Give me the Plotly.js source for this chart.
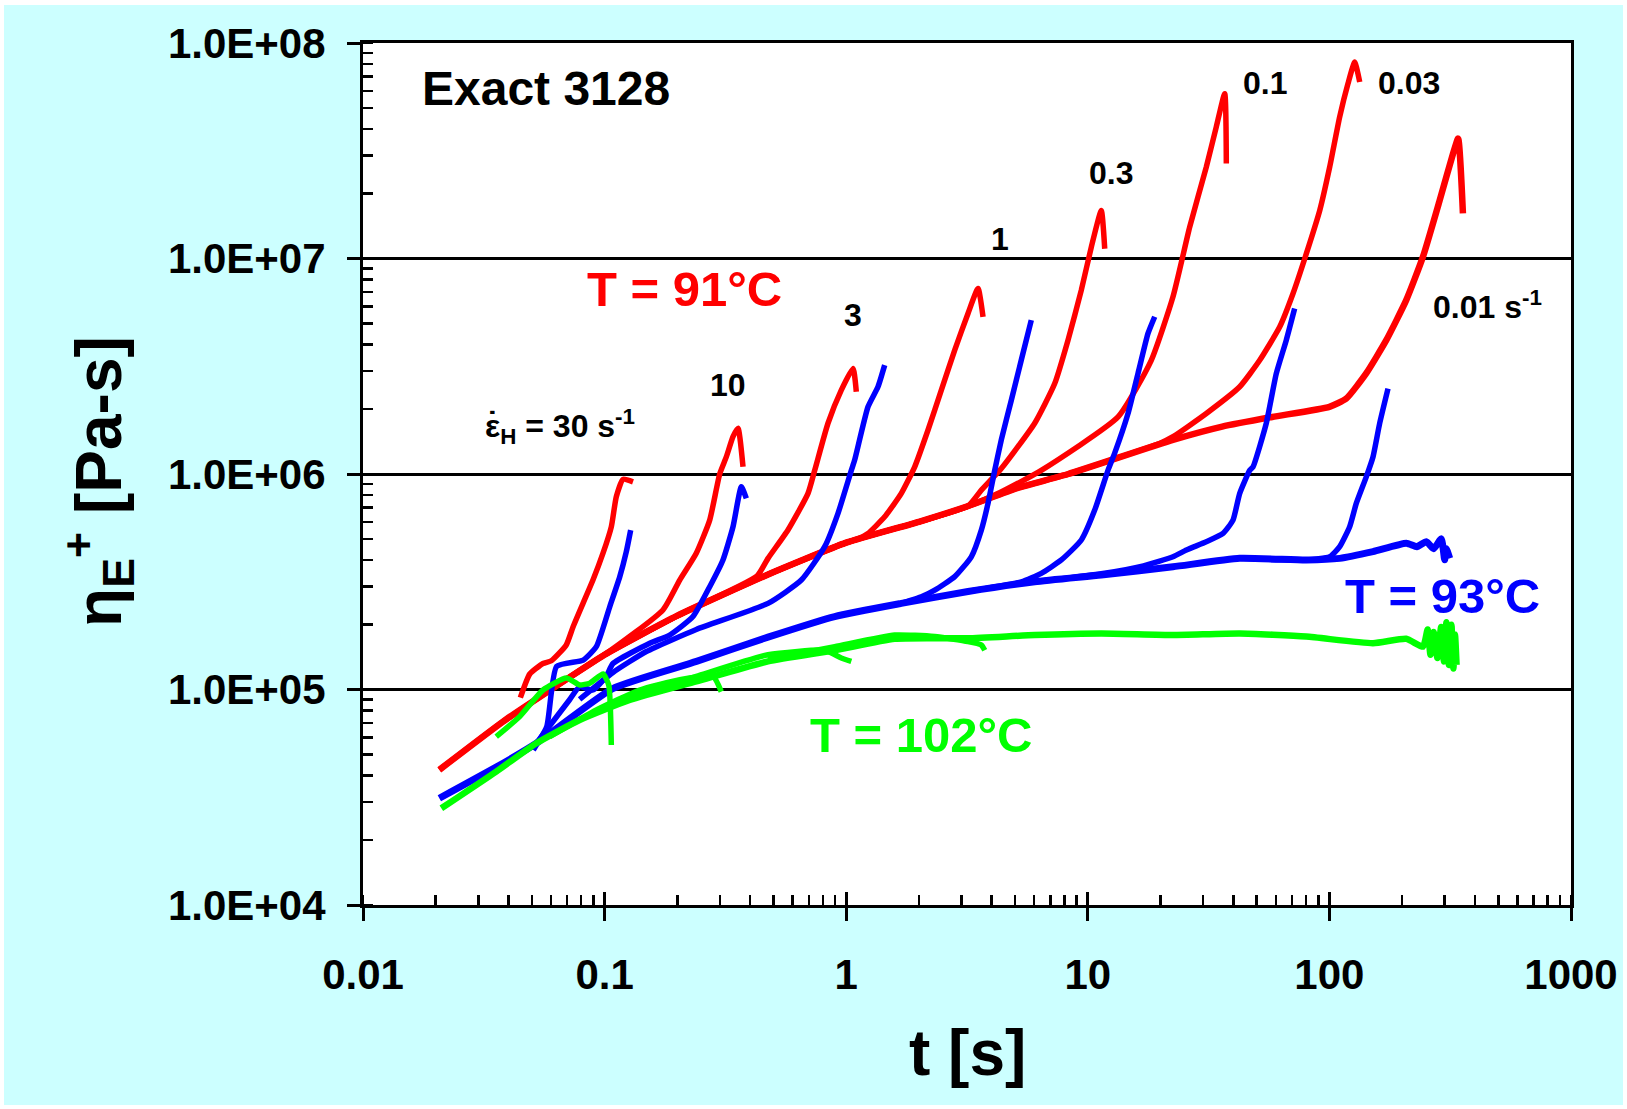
<!DOCTYPE html>
<html>
<head>
<meta charset="utf-8">
<script src="https://cdn.plot.ly/plotly-3.0.1.min.js"></script>
<style>
  html, body { margin: 0; padding: 0; background: #ffffff; }
  #chart { width: 1627px; height: 1109px; }
  #frame { position: absolute; left: 0; top: 0; width: 1627px; height: 1109px;
           box-sizing: border-box; border: solid #ffffff; border-width: 5px 4px 4px 4px;
           pointer-events: none; }
</style>
</head>
<body>
<div id="chart"></div>
<div id="frame"></div>
<script>
// Transient uniaxial extensional viscosity, Exact 3128, t [s] vs eta_E+ [Pa-s]

// ---- T = 91 °C (red) ----
const t91_30 = [0.0448, 0.049, 0.0556, 0.0602, 0.0694, 0.074, 0.0814, 0.0895, 0.0985, 0.1066, 0.1118, 0.1192, 0.1311];
const eta91_30 = [9.16e4, 1.18e5, 1.32e5, 1.36e5, 1.61e5, 1.95e5, 2.51e5, 3.22e5, 4.29e5, 5.69e5, 7.84e5, 9.44e5, 9.2e5];

const t91_10 = [0.0207, 0.038, 0.06, 0.1, 0.1744, 0.2046, 0.2396, 0.2723, 0.2995, 0.319, 0.34, 0.3566, 0.374];
const eta91_10 = [4.24e4, 7.1e4, 1.0e5, 1.45e5, 2.34e5, 3.22e5, 4.29e5, 6.11e5, 1.0e6, 1.2e6, 1.49e6, 1.63e6, 1.08e6];

const t91_3 = [0.038, 0.06, 0.1, 0.2, 0.4274, 0.4746, 0.5741, 0.695, 0.7408, 0.8407, 0.9543, 1.067, 1.101];
const eta91_3 = [7.1e4, 1.0e5, 1.45e5, 2.2e5, 3.36e5, 4.06e5, 5.5e5, 8.13e5, 1.04e6, 1.72e6, 2.45e6, 3.09e6, 2.41e6];

const t91_1 = [0.06, 0.1, 0.2, 0.47, 1.0, 1.119, 1.231, 1.443, 1.691, 1.921, 2.181, 2.476, 2.813, 3.193, 3.512, 3.684];
const eta91_1 = [1.0e5, 1.45e5, 2.2e5, 3.4e5, 4.8e5, 5.0e5, 5.3e5, 6.33e5, 8.13e5, 1.08e6, 1.6e6, 2.45e6, 3.76e6, 5.56e6, 7.26e6, 5.36e6];

const t91_03 = [0.1, 0.2, 0.47, 1.0, 2.0, 3.193, 3.625, 4.385, 6.028, 7.295, 8.28, 9.4, 10.34, 11.37, 11.75];
const eta91_03 = [1.45e5, 2.2e5, 3.4e5, 4.8e5, 6.0e5, 7.1e5, 8.42e5, 1.06e6, 1.72e6, 2.63e6, 4.18e6, 7.13e6, 1.13e7, 1.67e7, 1.11e7];

const t91_01 = [0.2, 0.47, 1.0, 2.0, 3.2, 4.331, 6.419, 13.34, 18.31, 22.52, 26.41, 30.94, 34.03, 36.87, 37.44];
const eta91_01 = [2.2e5, 3.4e5, 4.8e5, 6.0e5, 7.1e5, 8.2e5, 1.04e6, 1.84e6, 3.37e6, 6.64e6, 1.40e7, 2.66e7, 4.08e7, 5.82e7, 2.76e7];

const t91_003 = [0.47, 1.0, 2.0, 3.2, 5.1, 8.3, 19.9, 22.52, 30.94, 42.54, 51.45, 62.3, 70.7, 80.2, 91.2, 100.3, 110.3, 119.4, 127.3, 133.5];
const eta91_003 = [3.4e5, 4.8e5, 6.0e5, 7.1e5, 8.6e5, 1.0e6, 1.39e6, 1.49e6, 1.91e6, 2.54e6, 3.37e6, 4.82e6, 6.88e6, 1.05e7, 1.67e7, 2.66e7, 4.54e7, 6.48e7, 8.16e7, 6.59e7];

const t91_001 = [0.0207, 0.038, 0.06, 0.1, 0.2, 0.47, 1.0, 2.0, 3.2, 5.1, 8.3, 22.5, 36, 58, 100, 117.5, 142, 172, 208, 244, 286, 325, 341, 357];
const eta91_001 = [4.24e4, 7.1e4, 1.0e5, 1.45e5, 2.2e5, 3.4e5, 4.8e5, 6.0e5, 7.1e5, 8.6e5, 1.0e6, 1.44e6, 1.66e6, 1.84e6, 2.05e6, 2.24e6, 2.93e6, 4.18e6, 6.41e6, 1.02e7, 1.86e7, 3.07e7, 3.6e7, 1.62e7];

// ---- T = 93 °C (blue) ----
const t93_30 = [0.0507, 0.0576, 0.0633, 0.0816, 0.0924, 0.105, 0.1155, 0.123, 0.1282];
const eta93_30 = [5.24e4, 6.72e4, 1.28e5, 1.37e5, 1.58e5, 2.42e5, 3.33e5, 4.36e5, 5.49e5];

const t93_10 = [0.0522, 0.0715, 0.0788, 0.0895, 0.1015, 0.1083, 0.1537, 0.186, 0.2322, 0.2723, 0.309, 0.34, 0.368, 0.386];
const eta93_10 = [5.63e4, 8.94e4, 1.03e5, 9.95e4, 1.15e5, 1.32e5, 1.64e5, 1.79e5, 2.18e5, 3.0e5, 3.99e5, 5.69e5, 8.72e5, 7.71e5];

const t93_3 = [0.0788, 0.1083, 0.1488, 0.2396, 0.4746, 0.652, 0.8147, 0.9249, 1.05, 1.084, 1.231, 1.354, 1.443];
const eta93_3 = [9.0e4, 1.2e5, 1.5e5, 1.9e5, 2.51e5, 3.22e5, 4.6e5, 6.57e5, 1.04e6, 1.16e6, 2.05e6, 2.54e6, 3.2e6];

const t93_1 = [1.691, 2.046, 2.325, 2.813, 3.295, 3.625, 3.863, 4.119, 4.385, 4.824, 5.306, 5.836];
const eta93_1 = [2.51e5, 2.69e5, 2.89e5, 3.34e5, 4.13e5, 5.49e5, 7.3e5, 1.04e6, 1.44e6, 2.2e6, 3.38e6, 5.18e6];

const t93_03 = [3.193, 5.306, 6.419, 7.77, 9.4, 10.68, 12.12, 12.92, 14.67, 16.14, 17.75, 18.92];
const eta93_03 = [2.85e5, 3.16e5, 3.46e5, 3.99e5, 4.94e5, 6.8e5, 1.04e6, 1.25e6, 1.91e6, 2.93e6, 4.49e6, 5.37e6];

const t93_01 = [6.028, 11.37, 17, 22.52, 25.6, 30.94, 36.28, 39.9, 42.54, 46.8, 48.3, 54.8, 60.3, 66.3, 71.8];
const eta93_01 = [3.16e5, 3.45e5, 3.75e5, 4.13e5, 4.44e5, 4.85e5, 5.3e5, 6.11e5, 8.13e5, 1.04e6, 1.08e6, 1.72e6, 2.93e6, 4.18e6, 5.86e6];

const t93_003 = [42.54, 80.2, 100.3, 110.3, 121.3, 129.2, 142.1, 151.5, 161.5, 174.8];
const eta93_003 = [4.06e5, 3.99e5, 4.13e5, 4.6e5, 5.69e5, 7.3e5, 9.7e5, 1.2e6, 1.72e6, 2.49e6];

const t93_001 = [0.0207, 0.038, 0.0522, 0.108, 0.24, 0.4746, 0.8962, 1.691, 3.193, 6.028, 11.37, 22.52, 42.54, 80.2, 110.3, 151.5, 208.2, 230, 251.8, 270, 290.5, 300, 304.6, 314.7];
const eta93_001 = [3.13e4, 4.55e4, 5.63e4, 1.01e5, 1.35e5, 1.75e5, 2.18e5, 2.51e5, 2.85e5, 3.16e5, 3.4e5, 3.71e5, 4.06e5, 3.99e5, 4.06e5, 4.36e5, 4.77e5, 4.6e5, 4.85e5, 4.5e5, 5.0e5, 4.0e5, 4.5e5, 4.06e5];

// ---- T = 102 °C (green) ----
const t102_30 = [0.0356, 0.0445, 0.0556, 0.0694, 0.0788, 0.0868, 0.0985, 0.104, 0.1066];
const eta102_30 = [6.04e4, 7.48e4, 9.95e4, 1.13e5, 1.05e5, 1.07e5, 1.18e5, 1.05e5, 5.53e4];

const t102_10 = [0.0593, 0.0924, 0.1397, 0.2046, 0.2811, 0.304];
const eta102_10 = [6.04e4, 8.03e4, 9.95e4, 1.11e5, 1.15e5, 9.78e4];

const t102_3 = [0.127, 0.2396, 0.4746, 0.8147, 0.9543, 1.05];
const eta102_3 = [9.2e4, 1.15e5, 1.45e5, 1.52e5, 1.40e5, 1.35e5];

const t102_1 = [0.4746, 0.8962, 1.587, 2.325, 3.193, 3.625, 3.745];
const eta102_1 = [1.38e5, 1.58e5, 1.79e5, 1.76e5, 1.67e5, 1.61e5, 1.52e5];

const t102_001 = [0.0211, 0.0356, 0.0522, 0.0788, 0.127, 0.2396, 0.4746, 0.8962, 1.587, 3.193, 6.028, 11.37, 22.52, 42.54, 80.2, 151.5, 208, 244, 255, 262, 270, 280, 290, 298, 305, 312, 320, 326, 331, 336];
const eta102_001 = [2.81e4, 4.16e4, 5.63e4, 7.22e4, 8.94e4, 1.09e5, 1.35e5, 1.52e5, 1.72e5, 1.73e5, 1.79e5, 1.82e5, 1.79e5, 1.82e5, 1.76e5, 1.64e5, 1.72e5, 1.58e5, 1.9e5, 1.45e5, 1.85e5, 1.4e5, 1.95e5, 1.35e5, 2.05e5, 1.3e5, 2.0e5, 1.25e5, 1.8e5, 1.3e5];

// ---- axis ticks ----
const xTickVals = [0.01, 0.1, 1, 10, 100, 1000];
const xTickText = ['0.01', '0.1', '1', '10', '100', '1000'];
const yTickVals = [1e4, 1e5, 1e6, 1e7, 1e8];
const yTickText = ['1.0E+04', '1.0E+05', '1.0E+06', '1.0E+07', '1.0E+08'];

const RED = '#ff0000', BLUE = '#0000ff', GREEN = '#00ff00';
const FONT = 'Liberation Sans, Arial, sans-serif';

function curve(x, y, color, name, width) {
  return { x: x, y: y, type: 'scatter', mode: 'lines', name: name,
           line: { color: color, width: width || 5.5, shape: 'spline', smoothing: 0.5 },
           showlegend: false, hoverinfo: 'skip' };
}

const traces = [
  curve(t91_001, eta91_001, RED, '91 °C, 0.01', 6.5),
  curve(t91_003, eta91_003, RED, '91 °C, 0.03'),
  curve(t91_01, eta91_01, RED, '91 °C, 0.1'),
  curve(t91_03, eta91_03, RED, '91 °C, 0.3'),
  curve(t91_1, eta91_1, RED, '91 °C, 1'),
  curve(t91_3, eta91_3, RED, '91 °C, 3'),
  curve(t91_10, eta91_10, RED, '91 °C, 10'),
  curve(t91_30, eta91_30, RED, '91 °C, 30'),
  curve(t93_001, eta93_001, BLUE, '93 °C, 0.01', 7),
  curve(t93_003, eta93_003, BLUE, '93 °C, 0.03'),
  curve(t93_01, eta93_01, BLUE, '93 °C, 0.1'),
  curve(t93_03, eta93_03, BLUE, '93 °C, 0.3'),
  curve(t93_1, eta93_1, BLUE, '93 °C, 1'),
  curve(t93_3, eta93_3, BLUE, '93 °C, 3'),
  curve(t93_10, eta93_10, BLUE, '93 °C, 10'),
  curve(t93_30, eta93_30, BLUE, '93 °C, 30'),
  curve(t102_001, eta102_001, GREEN, '102 °C, 0.01', 6.5),
  curve(t102_1, eta102_1, GREEN, '102 °C, 1'),
  curve(t102_3, eta102_3, GREEN, '102 °C, 3'),
  curve(t102_10, eta102_10, GREEN, '102 °C, 10'),
  curve(t102_30, eta102_30, GREEN, '102 °C, 30'),
  // carrier for the upper half of the crossing major ticks on the time axis
  { x: [], y: [], type: 'scatter', mode: 'lines', xaxis: 'x2', yaxis: 'y', showlegend: false }
];

function label(text, x, y, size, color, anchor) {
  return { text: text, xref: 'paper', yref: 'paper', x: x, y: y,
           xanchor: anchor || 'center', yanchor: 'middle', showarrow: false,
           font: { family: FONT, size: size, color: color, weight: 'bold' } };
}

const annotations = [
  label('Exact 3128', 0.0469, 0.947, 48, '#000000', 'left'),
  label('T = 91°C', 0.1835, 0.7146, 49, RED, 'left'),
  label('T = 93°C', 0.8113, 0.359, 49, BLUE, 'left'),
  label('T = 102°C', 0.3684, 0.1972, 49, GREEN, 'left'),
  label('ε<sub>H</sub> = 30 s<sup>-1</sup>', 0.0993, 0.555, 32, '#000000', 'left'),
  label('˙', 0.1072, 0.5595, 32, '#000000'),
  label('10', 0.3022, 0.6032, 32, '#000000'),
  label('3', 0.4056, 0.6845, 32, '#000000'),
  label('1', 0.5276, 0.7726, 32, '#000000'),
  label('0.3', 0.6195, 0.8488, 32, '#000000'),
  label('0.1', 0.7464, 0.954, 32, '#000000'),
  label('0.03', 0.8659, 0.954, 32, '#000000'),
  label('0.01 s<sup>-1</sup>', 0.8841, 0.6955, 32, '#000000', 'left'),
  // axis titles
  label('t [s]', 0.5004, -0.1717, 64, '#000000'),
  Object.assign(label('η<sub>E</sub><sup>+</sup> [Pa-s]', -0.2194, 0.4919, 64, '#000000'), { textangle: -90 })
];

const axisCommon = {
  type: 'log', showline: true, linecolor: '#000000', linewidth: 3, mirror: true,
  zeroline: false, ticks: 'outside', ticklen: 13, tickwidth: 3, tickcolor: '#000000',
  tickfont: { family: FONT, size: 42, color: '#000000', weight: 'bold' },
  minor: { ticks: 'inside', ticklen: 10, tickwidth: 2.5, tickcolor: '#000000', dtick: 'D1', showgrid: false }
};

const layout = {
  width: 1627, height: 1109,
  margin: { l: 363, r: 56, t: 43, b: 204, pad: 0 },
  paper_bgcolor: '#ccffff',
  plot_bgcolor: '#ffffff',
  showlegend: false,
  xaxis: Object.assign({}, axisCommon, {
    range: [-2, 3], tickmode: 'array', tickvals: xTickVals, ticktext: xTickText,
    showgrid: false, ticklabelstandoff: 18
  }),
  xaxis2: {
    type: 'log', overlaying: 'x', matches: 'x', anchor: 'y', side: 'bottom',
    range: [-2, 3], tickmode: 'array', tickvals: xTickVals, ticks: 'inside', ticklen: 13,
    tickwidth: 3, tickcolor: '#000000', showticklabels: false, showgrid: false,
    showline: false, zeroline: false
  },
  yaxis: Object.assign({}, axisCommon, {
    range: [4, 8], tickmode: 'array', tickvals: yTickVals, ticktext: yTickText,
    showgrid: true, gridcolor: '#000000', gridwidth: 3, ticklabelstandoff: 13
  }),
  annotations: annotations
};

Plotly.newPlot('chart', traces, layout, { staticPlot: true, displayModeBar: false });
</script>
</body>
</html>
